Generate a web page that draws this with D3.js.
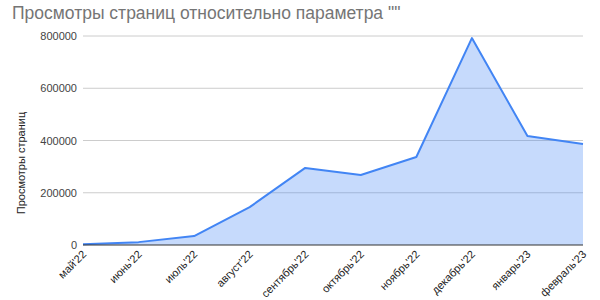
<!DOCTYPE html>
<html>
<head>
<meta charset="utf-8">
<script src="https://d3js.org/d3.v7.min.js"></script>
<style>
  body { margin: 0; background: #fff; }
  text { font-family: Arial, "Liberation Sans", sans-serif; }
</style>
</head>
<body>
<svg id="chart" width="600" height="300"></svg>
<script>
// data
var months = ["май'22", "июнь'22", "июль'22", "август'22", "сентябрь'22", "октябрь'22", "ноябрь'22", "декабрь'22", "январь'23", "февраль'23"];
var views = [3000, 11000, 34000, 145000, 295000, 268000, 337000, 792000, 417000, 387000];
var yTicks = [0, 200000, 400000, 600000, 800000];

var svg = d3.select("#chart");
var plotLeft = 83, plotRight = 583, plotTop = 36, plotBottom = 245;

var x = d3.scalePoint().domain(months).range([plotLeft, plotRight]);
var y = d3.scaleLinear().domain([0, 800000]).range([plotBottom, plotTop]);

// title
svg.append("text")
  .attr("x", 12).attr("y", 19)
  .attr("font-size", 17.5)
  .attr("fill", "#757575")
  .text('Просмотры страниц относительно параметра ""');

// gridlines
svg.selectAll(".grid").data(yTicks.slice(1)).enter().append("line")
  .attr("x1", plotLeft).attr("x2", plotRight)
  .attr("y1", function(d){ return y(d); }).attr("y2", function(d){ return y(d); })
  .attr("stroke", "#cccccc").attr("stroke-width", 1);

// y labels
svg.selectAll(".ylab").data(yTicks).enter().append("text")
  .attr("x", plotLeft - 6).attr("y", function(d){ return y(d) + 4; })
  .attr("text-anchor", "end")
  .attr("font-size", 11)
  .attr("fill", "#444")
  .text(function(d){ return d; });

// y title
svg.append("text")
  .attr("transform", "translate(25,163) rotate(-90)")
  .attr("text-anchor", "middle")
  .attr("font-size", 11)
  .attr("fill", "#222")
  .text("Просмотры страниц");

// area + line
var area = d3.area()
  .x(function(d, i){ return x(months[i]); })
  .y0(y(0))
  .y1(function(d){ return y(d); });
var line = d3.line()
  .x(function(d, i){ return x(months[i]); })
  .y(function(d){ return y(d); });

svg.append("path").datum(views)
  .attr("d", area)
  .attr("fill", "#4285f4").attr("fill-opacity", 0.3);

svg.append("path").datum(views)
  .attr("d", line)
  .attr("fill", "none")
  .attr("stroke", "#4285f4").attr("stroke-width", 2)
  .attr("stroke-linejoin", "round");

// baseline
svg.append("line")
  .attr("x1", plotLeft).attr("x2", plotRight)
  .attr("y1", y(0)).attr("y2", y(0))
  .attr("stroke", "#333").attr("stroke-width", 1);

// x labels
svg.selectAll(".xlab").data(months).enter().append("text")
  .attr("transform", function(d){ return "translate(" + (x(d) + 4) + "," + (plotBottom + 10) + ") rotate(-45)"; })
  .attr("text-anchor", "end")
  .attr("font-size", 11)
  .attr("fill", "#222")
  .text(function(d){ return d; });
</script>
</body>
</html>
